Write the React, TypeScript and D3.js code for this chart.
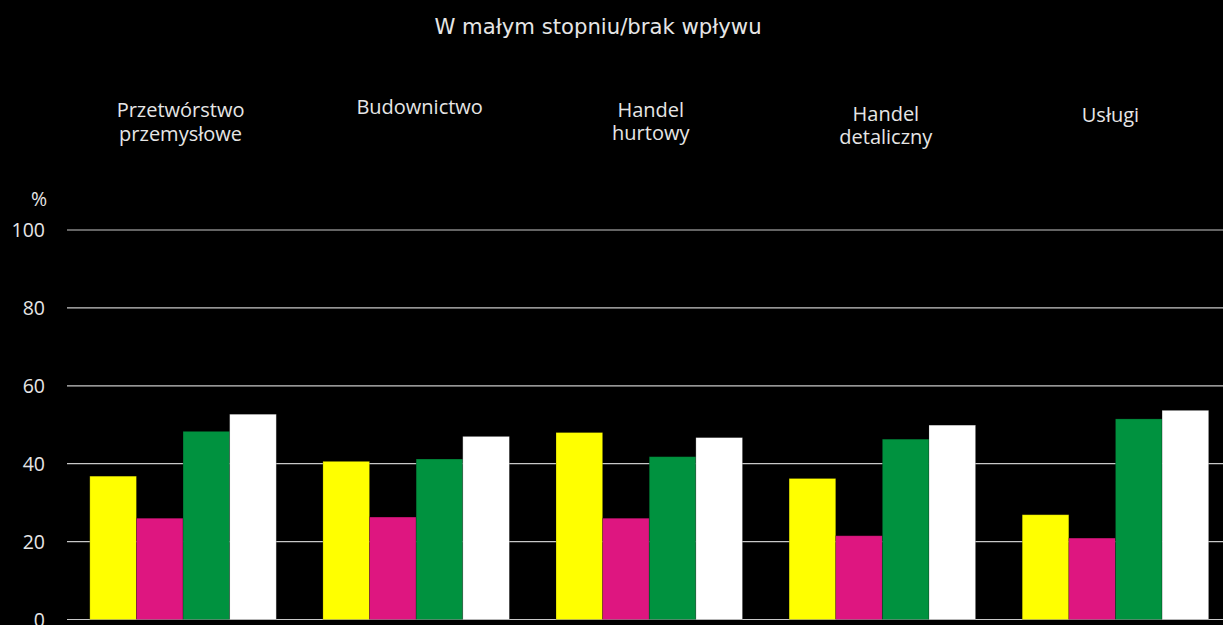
import React from "react";
import * as d3 from "d3";

const title = "W małym stopniu/brak wpływu";
const categories = [
  ["Przetwórstwo", "przemysłowe"],
  ["Budownictwo"],
  ["Handel", "hurtowy"],
  ["Handel", "detaliczny"],
  ["Usługi"],
];
const seriesNames = ["s1", "s2", "s3", "s4"];
const seriesA = [36.8, 40.6, 48.0, 36.2, 26.9];
const seriesB = [26.0, 26.3, 26.0, 21.5, 20.9];
const seriesC = [48.3, 41.2, 41.8, 46.3, 51.5];
const seriesD = [52.7, 47.0, 46.7, 49.9, 53.7];
const yTicks = [0, 20, 40, 60, 80, 100];
const colors = ["#FFFF00", "#DE1680", "#00923F", "#FFFFFF"];

// layout constants (label placement relative to group centre)
const labelDx = [-2.5, 3.5, 1.5, 3.5, -5];
const labelDy = [117.3, 113.5, 117, 121, 121.5];

const W = 1223;
const H = 625;

export default function App() {
  const series = [seriesA, seriesB, seriesC, seriesD];
  const x0 = d3
    .scaleBand<number>()
    .domain(d3.range(categories.length))
    .range([66.5, 1232])
    .paddingInner(0.2)
    .paddingOuter(0.1);
  const x1 = d3
    .scaleBand<number>()
    .domain(d3.range(seriesNames.length))
    .range([0, x0.bandwidth()]);
  const y = d3.scaleLinear().domain([0, 100]).range([619.5, 230]);

  const textColor = "#e6e6e6";
  const font = "'Open Sans', 'Noto Sans', sans-serif";

  return (
    <svg
      width={W}
      height={H}
      style={{ position: "absolute", left: 0, top: 0, display: "block", background: "#000" }}
    >
      <rect x={0} y={0} width={W} height={H} fill="#000" />
      <text
        x={598}
        y={34}
        textAnchor="middle"
        fill={textColor}
        fontFamily="'DejaVu Sans', sans-serif"
        fontSize={21.2}
      >
        {title}
      </text>
      {categories.map((lines, i) => {
        const cx = (x0(i) as number) + x0.bandwidth() / 2 + labelDx[i];
        return (
          <g key={i}>
            {lines.map((l, j) => (
              <text
                key={j}
                x={cx}
                y={labelDy[i] + j * 23.2}
                textAnchor="middle"
                fill={textColor}
                fontFamily={font}
                fontSize={20}
              >
                {l}
              </text>
            ))}
          </g>
        );
      })}
      <text x={39} y={206} textAnchor="middle" fill={textColor} fontFamily={font} fontSize={19.5}>
        %
      </text>
      {yTicks.map((t) => (
        <g key={t}>
          <line x1={67} x2={W} y1={y(t)} y2={y(t)} stroke="#c8c8c8" strokeWidth={1.2} />
          <text
            x={45}
            y={y(t) + 7}
            textAnchor="end"
            fill={textColor}
            fontFamily={font}
            fontSize={19.5}
          >
            {t}
          </text>
        </g>
      ))}
      {categories.map((_, i) => (
        <g key={i} transform={`translate(${x0(i)},0)`}>
          {series.map((s, k) => (
            <rect
              key={k}
              x={x1(k)}
              y={y(s[i])}
              width={x1.bandwidth()}
              height={y(0) - y(s[i])}
              fill={colors[k]}
              stroke="rgba(0,0,0,0.25)"
              strokeWidth={0.8}
            />
          ))}
        </g>
      ))}
    </svg>
  );
}
